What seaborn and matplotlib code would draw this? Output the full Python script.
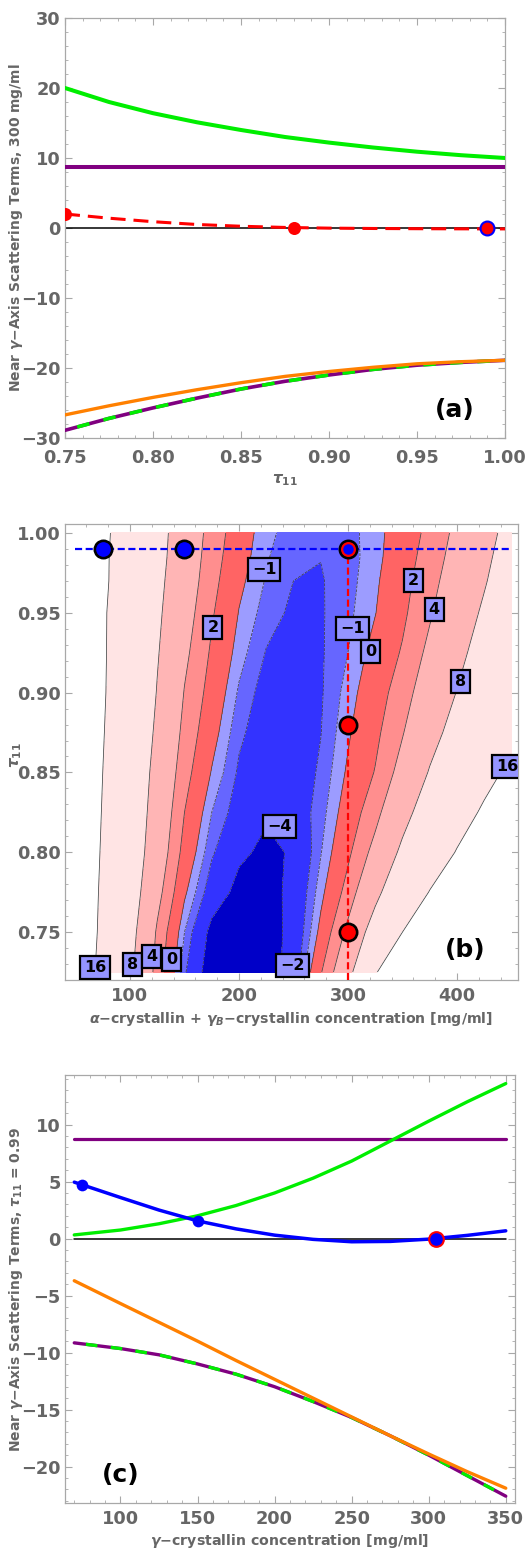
import numpy as np
import matplotlib
matplotlib.use("Agg")
import matplotlib.pyplot as plt
import seaborn as sns
from matplotlib.ticker import MultipleLocator, FormatStrFormatter

# ---------------- panel (a): terms at 300 mg/ml vs tau11
tau_a = [0.75, 0.775, 0.80, 0.825, 0.85, 0.875, 0.90, 0.925, 0.95, 0.975, 1.0]
green_a = [20.0, 18.0, 16.4, 15.1, 14.0, 13.0, 12.2, 11.5, 10.9, 10.4, 10.0]
red_a = [2.0, 1.4, 0.9, 0.5, 0.25, 0.08, -0.02, -0.07, -0.1, -0.12, -0.13]
orange_a = [-26.7, -25.4, -24.2, -23.1, -22.1, -21.2, -20.5, -19.9, -19.4, -19.1, -18.9]
dashed_a = [-28.9, -27.2, -25.7, -24.3, -23.0, -21.9, -21.0, -20.2, -19.6, -19.2, -18.9]
purple_a = [8.75, 8.75]
ends_a = [0.75, 1.0]
red_pts_a = ([0.75, 0.88], [2.0, 0.05])
ring_pt_a = ([0.99], [-0.05])

# ---------------- panel (b): contour map, conc x tau11
conc_b = [50, 75, 100, 125, 150, 175, 200, 225, 250, 275, 300, 325, 350, 375, 400, 425, 450]
tau_b = [0.725, 0.75, 0.775, 0.80, 0.825, 0.85, 0.875, 0.90, 0.925, 0.95, 0.97, 0.985, 1.0]
z_b = [
    [20.1, 14.4, 8.69, 3.11, -1.8, -5.2, -5.5, -5.2, -3.0, 1.82, 6.46, 15.27, 24.4, 33, 42, 50, 58],
    [20.4, 14.9, 9.33, 3.67, -1.0, -4.6, -5.1, -4.9, -3.4, 0.43, 4.6, 9.94, 16.0, 22.1, 28, 34, 40],
    [20.3, 15.2, 10.05, 4.84, 0.26, -2.84, -4.6, -4.7, -3.5, -0.43, 2.74, 6.93, 11.5, 16.2, 21, 25.5, 30],
    [20.4, 15.5, 10.6, 5.76, 1.29, -1.8, -3.64, -4.4, -3.8, -1.08, 1.6, 4.8, 8.75, 12.5, 16.3, 20, 24],
    [20.5, 15.76, 11.0, 6.26, 2.0, -1.0, -2.67, -3.78, -2.95, -1.46, 0.81, 3.26, 6.69, 10.13, 13.47, 16.8, 20.1],
    [20.65, 16.0, 11.35, 6.73, 2.75, -0.1, -2.2, -3.2, -2.95, -1.79, 0.22, 2.1, 4.93, 8.24, 11.2, 14.2, 17.2],
    [20.76, 16.27, 11.78, 7.32, 3.35, 0.62, -1.75, -2.77, -2.94, -2.04, -0.2, 1.53, 3.85, 6.72, 9.4, 11.95, 14.5],
    [20.9, 16.5, 12.2, 7.84, 3.89, 1.2, -1.17, -2.6, -2.86, -2.14, -0.57, 1.06, 3.0, 5.54, 8.1, 10.6, 13.0],
    [20.75, 16.58, 12.42, 8.25, 4.52, 1.71, -0.54, -2.07, -2.65, -2.15, -1.0, 0.52, 2.19, 4.59, 7.06, 9.5, 12.0],
    [20.6, 16.6, 12.6, 8.64, 5.1, 2.21, -0.06, -1.48, -2.26, -2.13, -1.27, -0.05, 1.6, 3.73, 6.1, 8.5, 11.0],
    [20.8, 16.9, 12.9, 8.95, 5.55, 2.63, 0.35, -1.1, -2.0, -2.1, -1.4, -0.25, 1.33, 3.2, 5.4, 7.72, 10.2],
    [20.8, 16.9, 13.1, 9.23, 5.8, 2.9, 0.67, -0.89, -1.75, -1.97, -1.45, -0.43, 1.07, 2.85, 4.93, 7.26, 9.7],
    [20.9, 17.1, 13.2, 9.38, 6.0, 3.14, 0.92, -0.74, -1.43, -1.76, -1.4, -0.45, 0.84, 2.54, 4.55, 6.82, 9.2],
]
levels_b = [-50, -4, -2, -1, 0, 2, 4, 8, 16, 100]
band_colors = ["#0000c8", "#3333ff", "#6666ff", "#9c9cff",
               "#ff6464", "#ff8e8e", "#ffb5b5", "#ffe4e4", "#ffffff"]
label_text = ["\u22121", "2", "\u22121", "0", "2", "4", "8", "16", "\u22124",
              "16", "8", "4", "0", "\u22122"]
label_conc = [223, 176, 304, 321, 360, 379, 403, 446, 237, 68, 102, 120, 138, 249]
label_tau = [0.977, 0.941, 0.94, 0.926, 0.97, 0.952, 0.907, 0.854, 0.816,
             0.728, 0.730, 0.735, 0.733, 0.729]
blue_pts_b = ([75, 150], [0.99, 0.99])
red_pts_b = ([300, 300], [0.88, 0.75])
ring_pt_b = ([300], [0.99])
hline_b = ([50, 450], [0.99, 0.99])
vline_b = ([300, 300], [0.72, 0.99])

# ---------------- panel (c): terms at tau11 = 0.99 vs gamma conc
conc_c = [70, 100, 125, 150, 175, 200, 225, 250, 275, 300, 325, 350]
green_c = [0.32, 0.75, 1.3, 2.0, 2.9, 4.0, 5.3, 6.8, 8.55, 10.3, 12.0, 13.6]
blue_c = [4.95, 3.6, 2.5, 1.55, 0.85, 0.3, -0.07, -0.28, -0.25, -0.05, 0.28, 0.68]
orange_c = [-3.7, -5.7, -7.35, -9.0, -10.7, -12.35, -14.0, -15.65, -17.3, -18.9, -20.45, -21.9]
dashed_c = [-9.15, -9.65, -10.2, -11.0, -11.9, -13.0, -14.3, -15.7, -17.3, -19.0, -20.8, -22.6]
purple_c = [8.75, 8.75]
ends_c = [70, 350]
blue_pts_c = ([75, 150], [4.7, 1.55])
ring_pt_c = ([305], [0.0])

GREEN = "#00ee00"
PURPLE = "#800080"
ORANGE = "#ff8000"
GRAY = "#666666"

sns.set_theme(style="ticks")
plt.rcParams.update({
    "font.family": ["DejaVu Sans"],
    "font.weight": "bold",
    "axes.labelweight": "bold",
    "mathtext.fontset": "custom",
    "mathtext.rm": "DejaVu Sans:bold",
    "mathtext.it": "DejaVu Sans:italic:bold",
    "mathtext.bf": "DejaVu Sans:bold",
    "axes.labelcolor": GRAY,
})

fig = plt.figure(figsize=(5.26, 15.49), dpi=100)
ax_a = fig.add_axes([0.1236, 0.71724, 0.8365, 0.27114])
ax_b = fig.add_axes([0.1236, 0.36733, 0.8612, 0.29439])
ax_c = fig.add_axes([0.1236, 0.02970, 0.8555, 0.27630])


def style(ax, xpad=5):
    for sp in ax.spines.values():
        sp.set_color("#a8a8a8")
        sp.set_linewidth(0.9)
    ax.tick_params(which="both", direction="in", top=True, right=True,
                   color="#a8a8a8", labelcolor=GRAY, labelsize=12.8)
    ax.tick_params(axis="y", pad=3)
    ax.tick_params(axis="x", pad=xpad)
    ax.tick_params(which="major", length=5, width=0.8)
    ax.tick_params(which="minor", length=2.5, width=0.6)
    for lab in ax.get_xticklabels() + ax.get_yticklabels():
        lab.set_fontweight("bold")


def dash_overlay(ax, x, y, lw):
    sns.lineplot(x=x, y=y, ax=ax, color=PURPLE, linewidth=lw, zorder=3)
    ax.plot(x, y, color=GREEN, linewidth=lw, linestyle=(4, (3.5, 4.0)),
            zorder=4, solid_capstyle="butt")


# ---- (a)
ax = ax_a
sns.lineplot(x=ends_a, y=[0, 0], ax=ax, color="black", linewidth=1.1, zorder=2)
sns.lineplot(x=tau_a, y=green_a, ax=ax, color=GREEN, linewidth=2.9, zorder=3)
sns.lineplot(x=ends_a, y=purple_a, ax=ax, color=PURPLE, linewidth=2.9, zorder=3)
dash_overlay(ax, tau_a, dashed_a, 2.6)
sns.lineplot(x=tau_a, y=orange_a, ax=ax, color=ORANGE, linewidth=2.4, zorder=5)
ax.plot(tau_a, red_a, color="red", linewidth=2.2, linestyle=(0, (4.9, 2.6)), zorder=5)
sns.scatterplot(x=red_pts_a[0], y=red_pts_a[1], ax=ax, color="red", s=88,
                linewidth=0, zorder=6)
sns.scatterplot(x=ring_pt_a[0], y=ring_pt_a[1], ax=ax, color="red", s=100,
                edgecolor="blue", linewidth=1.5, zorder=6)
ax.set_xlim(0.75, 1.0)
ax.set_ylim(-30, 30)
ax.xaxis.set_major_locator(MultipleLocator(0.05))
ax.xaxis.set_minor_locator(MultipleLocator(0.01))
ax.xaxis.set_major_formatter(FormatStrFormatter("%.2f"))
ax.yaxis.set_major_locator(MultipleLocator(10))
ax.yaxis.set_minor_locator(MultipleLocator(2))
ax.set_xlabel(r"$\tau_{11}$", fontsize=11)
ax.set_ylabel("Near $\\gamma$\u2212Axis Scattering Terms, 300 mg/ml", fontsize=10)
ax.xaxis.set_label_coords(0.5, -0.082)
ax.yaxis.set_label_coords(-0.092, 0.5)
ax.text(0.886, 0.067, "(a)", transform=ax.transAxes, ha="center", va="center",
        fontsize=18, fontweight="bold", color="black")
style(ax, xpad=8)

# ---- (b)
ax = ax_b
ax.contourf(conc_b, tau_b, z_b, levels=levels_b, colors=band_colors, zorder=1)
ax.contour(conc_b, tau_b, z_b, levels=levels_b[1:-1], colors="#404040",
           linewidths=0.55, zorder=2)
ax.plot(hline_b[0], hline_b[1], color="blue", linewidth=1.6,
        linestyle=(0, (3.2, 1.6)), zorder=3)
ax.plot(vline_b[0], vline_b[1], color="red", linewidth=1.6,
        linestyle=(0, (3.2, 1.6)), zorder=3)
for txt, cx, ty in zip(label_text, label_conc, label_tau):
    ax.text(cx, ty, txt, ha="center", va="center", fontsize=11.5,
            fontweight="bold", color="black", zorder=4, clip_on=True,
            bbox=dict(boxstyle="square,pad=0.25", facecolor="#9494ff",
                      edgecolor="black", linewidth=1.6))
sns.scatterplot(x=blue_pts_b[0], y=blue_pts_b[1], ax=ax, color="blue", s=156,
                edgecolor="black", linewidth=1.9, zorder=6)
sns.scatterplot(x=red_pts_b[0], y=red_pts_b[1], ax=ax, color="red", s=156,
                edgecolor="black", linewidth=1.9, zorder=6)
sns.scatterplot(x=ring_pt_b[0], y=ring_pt_b[1], ax=ax, color="black", s=207,
                linewidth=0, zorder=6)
sns.scatterplot(x=ring_pt_b[0], y=ring_pt_b[1], ax=ax, color="blue", s=84,
                edgecolor="red", linewidth=1.6, zorder=7)
ax.set_xlim(40.4, 456)
ax.set_ylim(0.72, 1.0056)
ax.xaxis.set_major_locator(MultipleLocator(100))
ax.xaxis.set_minor_locator(MultipleLocator(20))
ax.yaxis.set_major_locator(MultipleLocator(0.05))
ax.yaxis.set_minor_locator(MultipleLocator(0.01))
ax.yaxis.set_major_formatter(FormatStrFormatter("%.2f"))
ax.set_xlabel("$\\alpha$\u2212crystallin + $\\gamma_B$\u2212crystallin concentration [mg/ml]",
              fontsize=10.2)
ax.set_ylabel(r"$\tau_{11}$", fontsize=11)
ax.xaxis.set_label_coords(0.5, -0.066)
ax.yaxis.set_label_coords(-0.09, 0.493)
ax.text(0.883, 0.066, "(b)", transform=ax.transAxes, ha="center", va="center",
        fontsize=18, fontweight="bold", color="black", zorder=8)
style(ax)

# ---- (c)
ax = ax_c
sns.lineplot(x=ends_c, y=[0, 0], ax=ax, color="black", linewidth=1.1, zorder=2)
sns.lineplot(x=ends_c, y=purple_c, ax=ax, color=PURPLE, linewidth=2.3, zorder=3)
sns.lineplot(x=conc_c, y=green_c, ax=ax, color=GREEN, linewidth=2.4, zorder=3)
dash_overlay(ax, conc_c, dashed_c, 2.4)
sns.lineplot(x=conc_c, y=orange_c, ax=ax, color=ORANGE, linewidth=2.4, zorder=5)
sns.lineplot(x=conc_c, y=blue_c, ax=ax, color="blue", linewidth=2.5, zorder=5)
sns.scatterplot(x=blue_pts_c[0], y=blue_pts_c[1], ax=ax, color="blue", s=71,
                linewidth=0, zorder=6)
sns.scatterplot(x=ring_pt_c[0], y=ring_pt_c[1], ax=ax, color="blue", s=112,
                edgecolor="red", linewidth=1.5, zorder=6)
ax.set_xlim(64, 356)
ax.set_ylim(-23.2, 14.35)
ax.xaxis.set_major_locator(MultipleLocator(50))
ax.xaxis.set_minor_locator(MultipleLocator(10))
ax.yaxis.set_major_locator(MultipleLocator(5))
ax.yaxis.set_minor_locator(MultipleLocator(1))
ax.set_xlabel("$\\gamma$\u2212crystallin concentration [mg/ml]", fontsize=10.2)
ax.set_ylabel("Near $\\gamma$\u2212Axis Scattering Terms, $\\tau_{11}$ = 0.99", fontsize=10)
ax.xaxis.set_label_coords(0.5, -0.068)
ax.yaxis.set_label_coords(-0.089, 0.5)
ax.text(0.124, 0.065, "(c)", transform=ax.transAxes, ha="center", va="center",
        fontsize=18, fontweight="bold", color="black")
style(ax)

fig.savefig("out.png", dpi=100)
